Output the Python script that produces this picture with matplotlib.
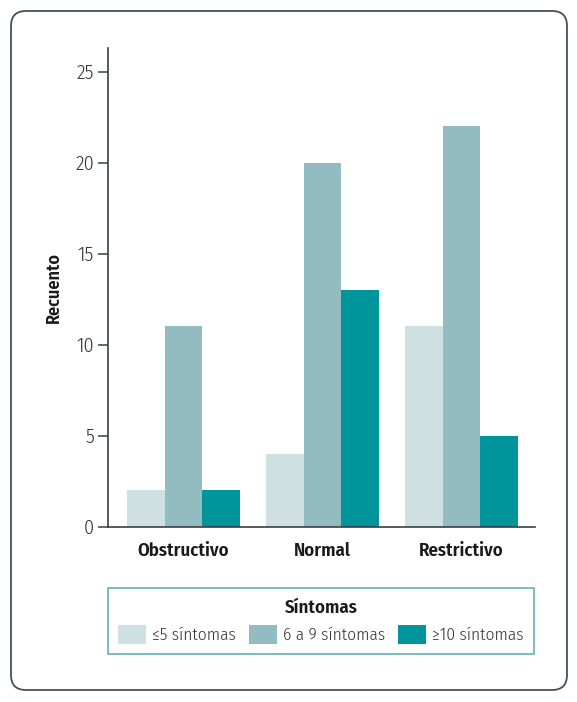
import matplotlib
matplotlib.use("Agg")
import matplotlib.pyplot as plt
import numpy as np
from matplotlib.patches import FancyBboxPatch

plt.rcParams['font.family'] = ['Fira Sans Condensed', 'DejaVu Sans']

# data
categories = ["Obstructivo", "Normal", "Restrictivo"]
series_names = ["≤5 síntomas", "6 a 9 síntomas", "≥10 síntomas"]
low = [2, 4, 11]
mid = [11, 20, 22]
high = [2, 13, 5]
yticks = [0, 5, 10, 15, 20, 25]

colors = ["#cfe0e3", "#93bcc2", "#00959a"]
axis_col = "#3a3f44"

fig = plt.figure(figsize=(5.77, 7.02), dpi=100)

# rounded frame around everything
frame = FancyBboxPatch((0.11, 0.12), 5.56, 6.79,
                       boxstyle="round,pad=0,rounding_size=0.15",
                       transform=fig.dpi_scale_trans, facecolor="none",
                       edgecolor="#4a4f55", linewidth=1.3, zorder=0)
fig.patches.append(frame)

ax = fig.add_axes([108 / 577, 1 - 526.5 / 702, 427 / 577, 478.5 / 702])

x = np.arange(len(categories))
w = 0.27
for i, (vals, name) in enumerate(zip([low, mid, high], series_names)):
    ax.bar(x + (i - 1) * w, vals, width=w, color=colors[i], label=name, zorder=2)

ax.set_xlim(-0.543, 2.53)
ax.set_ylim(0, 26.3)
ax.set_yticks(yticks)
ax.set_xticks(x)
ax.set_xticklabels(categories, fontsize=13.5, fontweight=600, color="#1a1a1a")
ax.tick_params(axis="x", length=0, pad=11)
ax.tick_params(axis="y", direction="out", length=7, width=1.1, color=axis_col,
               labelsize=14.5, labelcolor="#333333", pad=3)
for lab in ax.get_yticklabels():
    lab.set_fontweight(300)
for s in ["top", "right"]:
    ax.spines[s].set_visible(False)
for s in ["left", "bottom"]:
    ax.spines[s].set_color(axis_col)
    ax.spines[s].set_linewidth(1.2)

ax.set_ylabel("Recuento", fontsize=13, fontweight=600, color="#1a1a1a", labelpad=9)

leg = fig.legend(loc="lower left",
                 bbox_to_anchor=(108 / 577, 48 / 702, 426 / 577, 70 / 702),
                 mode="expand", ncol=3, borderaxespad=0,
                 prop={"size": 12.5, "weight": 300},
                 title="Síntomas", title_fontproperties={"weight": 600, "size": 13.5},
                 handlelength=1.6, handleheight=1.25, handletextpad=0.35,
                 borderpad=0.6, fancybox=False, frameon=True)
leg.get_frame().set_edgecolor("#3d9ea0")
leg.get_frame().set_linewidth(1.2)
for t in leg.get_texts():
    t.set_color("#333333")
leg.get_title().set_color("#1a1a1a")

fig.savefig("out.png", dpi=100)
